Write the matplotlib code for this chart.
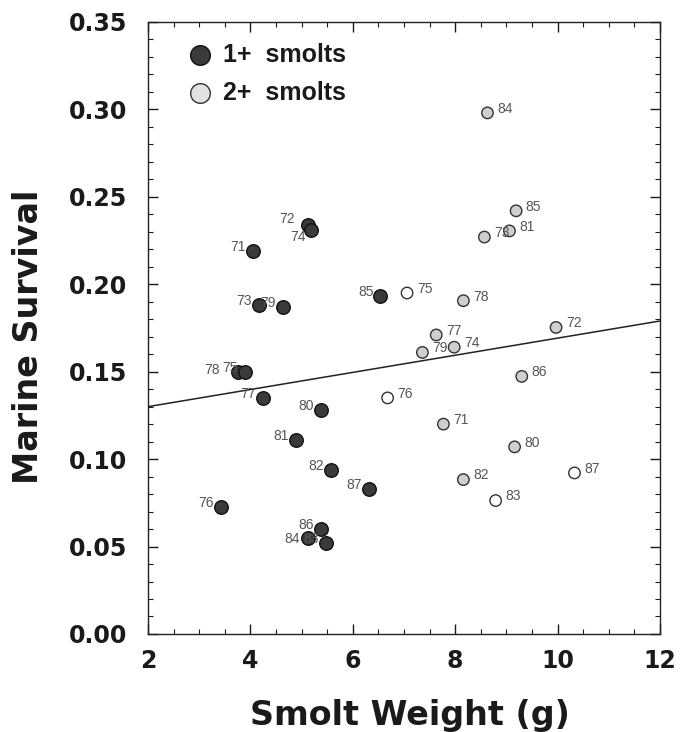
import matplotlib.pyplot as plt
from matplotlib.ticker import MultipleLocator

plt.rcParams['font.family'] = ['DejaVu Sans']

# 1+ smolts (dark filled)
w1 = [4.05, 5.12, 5.19, 4.17, 4.63, 6.54, 3.76, 3.89, 4.24, 5.38, 4.89, 5.57, 6.32, 3.42, 5.38, 5.12, 5.48]
s1 = [0.219, 0.234, 0.231, 0.188, 0.187, 0.193, 0.150, 0.150, 0.135, 0.128, 0.111, 0.0935, 0.083, 0.0725, 0.060, 0.055, 0.052]
yr1 = ['71', '72', '74', '73', '79', '85', '78', '75', '77', '80', '81', '82', '87', '76', '86', '84', '83']

# 2+ smolts (stippled / open)
w2 = [8.63, 9.19, 8.57, 9.06, 7.06, 8.16, 7.63, 7.36, 7.98, 9.97, 9.30, 6.68, 7.77, 9.16, 8.16, 8.79, 10.33]
s2 = [0.298, 0.242, 0.227, 0.2305, 0.195, 0.1906, 0.171, 0.161, 0.164, 0.1753, 0.1473, 0.135, 0.120, 0.107, 0.0883, 0.0763, 0.0921]
yr2 = ['84', '85', '73', '81', '75', '78', '77', '79', '74', '72', '86', '76', '71', '80', '82', '83', '87']
open2 = ['75', '76', '83', '87']

# regression line end points
line_x = [2, 12]
line_y = [0.130, 0.179]

# label nudges where years sit on top of each other
nudge1 = {'72': (-9, 4), '74': (-4, -5), '78': (-13, 1), '86': (-5, 3), '84': (-6, -1)}
nudge2 = {}

fig = plt.figure(figsize=(6.86, 7.32), dpi=100)
ax = fig.add_axes([0.2157, 0.1339, 0.7464, 0.8361])

ax.plot(line_x, line_y, color='#222222', lw=1.1, zorder=1)

ax.scatter(w1, s1, s=95, c='#3a3a3a', edgecolors='#111111', linewidths=1.0, zorder=3)
for x, y, t in zip(w1, s1, yr1):
    ax.annotate(t, (x, y), xytext=nudge1.get(t, (-5, 3)), textcoords='offset points',
                ha='right', va='center', fontsize=10, color='#555555',
                family='Liberation Sans', zorder=4)

fill2 = ['white' if t in open2 else '#cfcfcf' for t in yr2]
ax.scatter(w2, s2, s=68, c=fill2, edgecolors='#333333', linewidths=1.0, zorder=3)
for x, y, t in zip(w2, s2, yr2):
    ax.annotate(t, (x, y), xytext=nudge2.get(t, (7, 3)), textcoords='offset points',
                ha='left', va='center', fontsize=10, color='#555555',
                family='Liberation Sans', zorder=4)

# legend
ax.scatter([3.02], [0.331], s=200, c='#3a3a3a', edgecolors='#111111', linewidths=1.0, zorder=3)
ax.scatter([3.02], [0.3095], s=200, c='#e2e2e2', edgecolors='#333333', linewidths=1.0, zorder=3)
ax.text(3.46, 0.331, '1+  smolts', fontsize=18, fontweight='bold', va='center',
        family='Liberation Sans', color='#1a1a1a')
ax.text(3.46, 0.3095, '2+  smolts', fontsize=18, fontweight='bold', va='center',
        family='Liberation Sans', color='#1a1a1a')

ax.set_xlim(2, 12)
ax.set_ylim(0, 0.35)
ax.xaxis.set_major_locator(MultipleLocator(2))
ax.xaxis.set_minor_locator(MultipleLocator(0.5))
ax.yaxis.set_major_locator(MultipleLocator(0.05))
ax.yaxis.set_minor_locator(MultipleLocator(0.01))
ax.yaxis.set_major_formatter(plt.FuncFormatter(lambda v, p: '%.2f' % v))
ax.tick_params(which='both', direction='in', top=True, right=True, colors='#1a1a1a')
ax.tick_params(which='major', length=7.5, width=1.0, labelsize=17)
ax.tick_params(which='minor', length=3.8, width=0.8)
ax.tick_params(axis='x', which='major', pad=11)
ax.tick_params(axis='y', which='major', pad=15)
for lab in ax.get_xticklabels() + ax.get_yticklabels():
    lab.set_fontweight('bold')
for sp in ax.spines.values():
    sp.set_linewidth(1.0)
    sp.set_color('#222222')

fig.text(0.598, 0.0096, 'Smolt Weight (g)', fontsize=24, fontweight='bold',
         ha='center', va='baseline', color='#1a1a1a')
fig.text(0.042, 0.5396, 'Marine Survival', fontsize=24, fontweight='bold', rotation=90,
         ha='center', va='center', color='#1a1a1a')

fig.savefig('out.png', dpi=100)
